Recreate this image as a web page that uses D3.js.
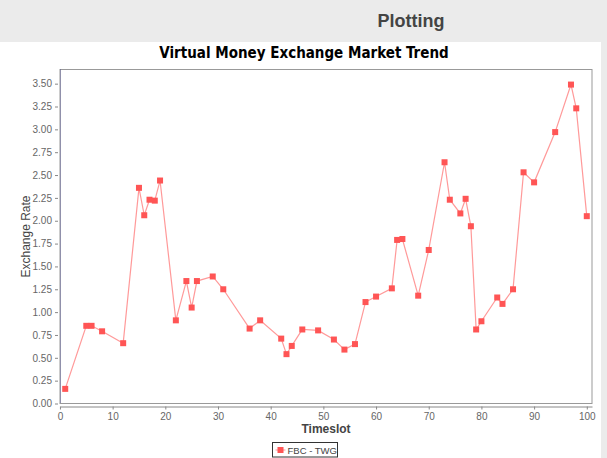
<!DOCTYPE html>
<meta charset="utf-8">
<title>Virtual Money Exchange Market Trend</title>
<style>
  body { margin: 0; background: #fff; }
  svg { display: block; }
</style>
<div id="viz"></div>
<script src="https://cdnjs.cloudflare.com/ajax/libs/d3/7.8.5/d3.min.js"></script>
<script>

var width = 607;
var height = 458;

// timeslot / exchange rate pairs for the one series
var seriesName = "FBC - TWG";
var timeslots = [1, 5, 6, 8, 12, 15, 16, 17, 18, 19, 22, 24, 25, 26, 29, 31, 36, 38, 42, 43,
  44, 46, 49, 52, 54, 56, 58, 60, 63, 64, 65, 68, 70, 73, 74, 76, 77, 78, 79, 80,
  83, 84, 86, 88, 90, 94, 97, 98, 100];
var rates = [0.16, 0.85, 0.85, 0.79, 0.66, 2.36, 2.06, 2.23, 2.22, 2.44, 0.91, 1.34, 1.05, 1.34, 1.39, 1.25, 0.82, 0.91, 0.71, 0.54,
  0.63, 0.81, 0.80, 0.70, 0.59, 0.65, 1.11, 1.17, 1.26, 1.79, 1.80, 1.18, 1.68, 2.64, 2.23, 2.08, 2.24, 1.94, 0.81, 0.90,
  1.16, 1.09, 1.25, 2.53, 2.42, 2.97, 3.49, 3.23, 2.05];
var xTicks = [0, 10, 20, 30, 40, 50, 60, 70, 80, 90, 100];
var yTicks = [0, 0.25, 0.5, 0.75, 1, 1.25, 1.5, 1.75, 2, 2.25, 2.5, 2.75, 3, 3.25, 3.5];

var plot = { left: 60, right: 592, top: 69.5, bottom: 403.5 };

var svg = d3.select("#viz").append("svg")
  .attr("width", width)
  .attr("height", height);

// page chrome: grey header band + grey strip at the right
svg.append("rect").attr("x", 0).attr("y", 0).attr("width", width).attr("height", 42).attr("fill", "#ebebeb");
svg.append("rect").attr("x", 601).attr("y", 0).attr("width", 6).attr("height", height).attr("fill", "#ebebeb");
svg.append("text")
  .attr("x", 411).attr("y", 27)
  .attr("text-anchor", "middle")
  .style("font", "bold 18px 'Liberation Sans', Arial, sans-serif")
  .attr("fill", "#444")
  .text("Plotting");

svg.append("text")
  .attr("x", 304).attr("y", 58)
  .attr("text-anchor", "middle")
  .style("font", "bold 15px 'DejaVu Sans Condensed', 'Liberation Sans', sans-serif")
  .attr("fill", "#000")
  .text("Virtual Money Exchange Market Trend");

var x = d3.scaleLinear().domain([0.01, 100.99]).range([plot.left, plot.right]);
var y = d3.scaleLinear().domain([0, 3.655]).range([plot.bottom, plot.top]);

// plot frame
svg.append("rect")
  .attr("x", plot.left).attr("y", plot.top)
  .attr("width", plot.right - plot.left).attr("height", plot.bottom - plot.top)
  .attr("fill", "#fff").attr("stroke", "#999").attr("stroke-width", 1);
svg.append("line")
  .attr("x1", plot.left + 0.5).attr("x2", plot.left + 0.5)
  .attr("y1", plot.top).attr("y2", plot.bottom)
  .attr("stroke", "#55558a").attr("stroke-dasharray", "1,1");

var tickFont = "10px 'Liberation Sans', Arial, sans-serif";

var xAxis = svg.append("g")
  .attr("transform", "translate(0," + (plot.bottom + 3) + ")")
  .call(d3.axisBottom(x).tickValues(xTicks).tickSize(3).tickPadding(3).tickSizeOuter(0));
var yAxis = svg.append("g")
  .attr("transform", "translate(" + (plot.left - 2) + ",0)")
  .call(d3.axisLeft(y).tickValues(yTicks).tickFormat(d3.format(".2f")).tickSize(3).tickPadding(3));
yAxis.select(".domain").remove();

[xAxis, yAxis].forEach(function(a) {
  a.selectAll(".domain").attr("stroke", "#888");
  a.selectAll(".tick line").attr("stroke", "#888");
  a.selectAll(".tick text").style("font", tickFont).attr("fill", "#666");
});

svg.append("text")
  .attr("x", (plot.left + plot.right) / 2).attr("y", 433)
  .attr("text-anchor", "middle")
  .style("font", "bold 12px 'Liberation Sans', Arial, sans-serif")
  .attr("fill", "#444")
  .text("Timeslot");

svg.append("text")
  .attr("transform", "translate(30," + ((plot.top + plot.bottom) / 2) + ") rotate(-90)")
  .attr("text-anchor", "middle")
  .style("font", "12px 'Liberation Sans', Arial, sans-serif")
  .attr("fill", "#444")
  .text("Exchange Rate");

// series
var pts = timeslots.map(function(t, i) { return [t, rates[i]]; });

svg.append("path")
  .datum(pts)
  .attr("d", d3.line().x(function(d) { return x(d[0]); }).y(function(d) { return y(d[1]); }))
  .attr("fill", "none")
  .attr("stroke", "#ff5555")
  .attr("stroke-opacity", 0.6)
  .attr("stroke-width", 1.2);

svg.append("g").selectAll("rect")
  .data(pts)
  .join("rect")
  .attr("x", function(d) { return x(d[0]) - 3; })
  .attr("y", function(d) { return y(d[1]) - 3; })
  .attr("width", 6).attr("height", 6)
  .attr("fill", "#ff5555");

// legend
var lg = svg.append("g").attr("transform", "translate(272.5,442.5)");
lg.append("rect").attr("width", 65).attr("height", 14.5)
  .attr("fill", "#fff").attr("stroke", "#333").attr("stroke-width", 1);
lg.append("line").attr("x1", 3).attr("x2", 13).attr("y1", 7.5).attr("y2", 7.5)
  .attr("stroke", "#ff5555").attr("stroke-opacity", 0.6);
lg.append("rect").attr("x", 5).attr("y", 4.5).attr("width", 6).attr("height", 6).attr("fill", "#ff5555");
lg.append("text").attr("x", 15).attr("y", 11)
  .style("font", "9.5px 'Liberation Sans', Arial, sans-serif")
  .attr("fill", "#444")
  .text(seriesName);

</script>
